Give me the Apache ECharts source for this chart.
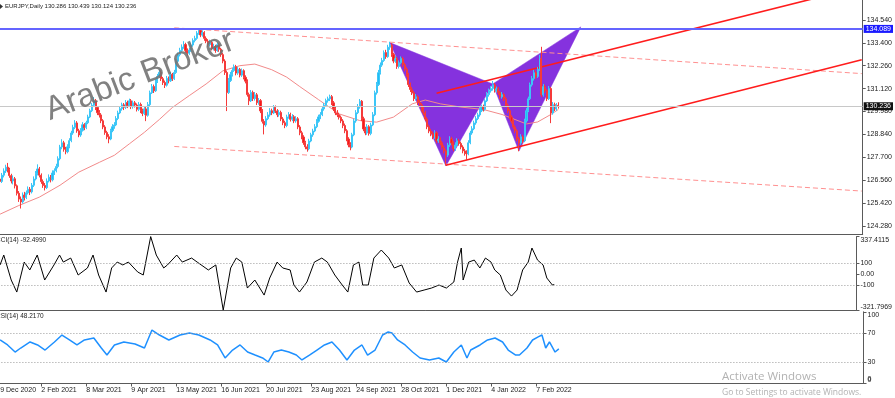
<!DOCTYPE html>
<html><head><meta charset="utf-8">
<script src="https://cdn.jsdelivr.net/npm/echarts@6/dist/echarts.min.js"></script>
<style>html,body{margin:0;padding:0;background:#fff;overflow:hidden;width:895px;height:398px;position:relative}#c{position:absolute;left:-10px;top:0;width:905px;height:398px}</style>
</head><body><div id="c"></div>
<script>
// ---------------- DATA ----------------
const chartTitle = 'EURJPY,Daily 130.286 130.439 130.124 130.236';
const cciTitle = 'CCI(14) -92.4990';
const rsiTitle = 'RSI(14) 48.2170';
const watermark = 'Arabic Broker';
const firstDate = '2020-12-29';
const categoryCount = 463;
const tickLabels = ['29 Dec 2020','2 Feb 2021','8 Mar 2021','9 Apr 2021','13 May 2021','16 Jun 2021','20 Jul 2021','23 Aug 2021','24 Sep 2021','28 Oct 2021','1 Dec 2021','4 Jan 2022','7 Feb 2022'];
const priceTicks = [124.280,125.420,126.560,127.700,128.840,129.980,131.120,132.260,133.400,134.540];
const priceMin = 123.883, priceMax = 135.529;
const alertLevel = 134.089;
const lastPrice = 130.236;
const cciTicks = [-321.7969,-100,0,100,337.4115];
const cciTickText = ['-321.7969','-100','0.00','100','337.4115'];
const cciLevels = [100,-100];
const rsiTicks = [0,30,70,100];
const rsiTickText = ['0','30','70','100'];
const rsiLevels = [70,30];

// daily candles [open, close, low, high], index 0 = 29 Dec 2020
const ohlc = [
[126.20,126.40,126.05,126.55],[126.40,126.62,126.31,126.78],[126.62,126.50,126.38,126.80],[126.50,126.81,126.42,126.92],[126.81,127.02,126.70,127.15],
[127.02,127.21,126.92,127.33],[127.21,127.08,126.95,127.42],[127.08,126.79,126.68,127.18],[126.79,126.52,126.40,126.88],[126.52,126.63,126.35,126.80],
[126.63,126.28,126.15,126.72],[126.28,125.91,125.80,126.35],[125.91,125.62,125.48,126.02],[125.62,125.48,125.15,125.75],[125.48,125.82,125.40,125.95],
[125.82,125.70,125.55,125.98],[125.70,125.93,125.62,126.05],[125.93,126.11,125.85,126.25],[126.11,125.98,125.82,126.22],[125.98,126.31,125.90,126.42],
[126.31,126.62,126.22,126.75],[126.62,126.90,126.55,127.02],[126.90,127.12,126.80,127.35],[127.12,126.81,126.70,127.22],[126.81,126.49,126.38,126.90],
[126.49,126.30,126.18,126.60],[126.30,126.19,126.05,126.42],[126.19,126.52,126.12,126.65],[126.52,126.71,126.45,126.85],[126.71,126.58,126.45,126.82],
[126.58,126.92,126.50,127.05],[126.92,127.03,126.82,127.15],[127.03,127.24,126.95,127.38],[127.24,127.63,127.15,127.75],[127.63,128.21,127.55,128.32],
[128.21,128.42,128.10,128.60],[128.42,128.10,127.98,128.52],[128.10,127.98,127.85,128.22],[127.98,128.22,127.90,128.35],[128.22,128.53,128.15,128.65],
[128.53,128.91,128.45,129.02],[128.91,129.19,128.82,129.32],[129.19,129.41,129.10,129.55],[129.41,129.02,128.92,129.50],[129.02,128.81,128.70,129.12],
[128.81,129.04,128.72,129.15],[129.04,129.32,128.98,129.45],[129.32,129.18,129.05,129.40],[129.18,129.42,129.10,129.52],[129.42,129.71,129.35,129.82],
[129.71,130.02,129.65,130.12],[130.02,130.29,129.95,130.40],[130.29,130.51,130.20,130.70],[130.51,130.18,130.05,130.60],[130.18,129.92,129.80,130.25],
[129.92,129.81,129.68,130.05],[129.81,129.52,129.40,129.90],[129.52,129.21,129.10,129.60],[129.21,128.93,128.82,129.30],[128.93,128.72,128.60,129.02],
[128.72,128.61,128.40,128.85],[128.61,129.03,128.55,129.12],[129.03,129.22,128.95,129.35],[129.22,129.31,129.12,129.45],[129.31,129.63,129.25,129.75],
[129.63,129.91,129.55,130.02],[129.91,130.12,129.85,130.25],[130.12,130.31,130.02,130.42],[130.31,130.19,130.05,130.40],[130.19,130.42,130.10,130.55],
[130.42,130.28,130.15,130.52],[130.28,130.51,130.20,130.62],[130.51,130.22,130.10,130.60],[130.22,130.41,130.12,130.52],[130.41,130.30,130.18,130.50],
[130.30,130.09,129.98,130.38],[130.09,130.33,130.00,130.45],[130.33,130.02,129.90,130.42],[130.02,129.88,129.75,130.12],[129.88,130.11,129.80,130.22],
[130.11,129.79,129.50,130.20],[129.79,130.32,129.72,130.45],[130.32,130.91,130.25,131.02],[130.91,131.22,130.85,131.35],[131.22,131.01,130.90,131.32],
[131.01,131.49,130.95,131.62],[131.49,131.72,131.40,131.85],[131.72,131.93,131.65,132.10],[131.93,131.61,131.50,132.02],[131.61,131.42,131.30,131.70],
[131.42,131.29,131.15,131.52],[131.29,131.63,131.22,131.75],[131.63,131.51,131.38,131.72],[131.51,131.82,131.45,131.95],[131.82,131.61,131.50,131.90],
[131.61,131.92,131.55,132.05],[131.92,132.48,131.85,132.60],[132.48,132.81,132.40,132.92],[132.81,133.02,132.72,133.15],[133.02,133.19,132.92,133.32],
[133.19,133.31,133.10,133.48],[133.31,133.02,132.90,133.40],[133.02,132.88,132.75,133.12],[132.88,133.04,132.80,133.15],[133.04,133.29,132.95,133.40],
[133.29,133.51,133.20,133.62],[133.51,133.62,133.42,133.75],[133.62,133.88,133.55,133.98],[133.88,134.01,133.80,134.10],[134.01,133.79,133.68,134.08],
[133.79,133.91,133.70,134.02],[133.91,133.62,133.50,133.98],[133.62,133.48,133.38,133.72],[133.48,133.31,133.20,133.58],[133.31,133.42,133.22,133.55],
[133.42,133.12,133.02,133.50],[133.12,133.21,133.02,133.35],[133.21,133.02,132.90,133.30],[133.02,133.31,132.95,133.42],[133.31,133.08,132.95,133.38],
[133.08,132.81,132.70,133.15],[132.81,132.49,132.38,132.90],[132.49,131.92,131.80,132.58],[131.92,130.92,130.00,132.02],[130.92,131.52,130.85,131.65],
[131.52,131.81,131.45,131.95],[131.81,132.02,131.72,132.15],[132.02,132.21,131.95,132.32],[132.21,131.89,131.78,132.30],[131.89,132.08,131.80,132.20],
[132.08,131.79,131.68,132.15],[131.79,132.01,131.70,132.12],[132.01,131.68,131.58,132.08],[131.68,131.49,131.38,131.78],[131.49,130.82,130.72,131.58],
[130.82,130.51,130.30,130.92],[130.51,130.93,130.45,131.05],[130.93,130.62,130.50,131.02],[130.62,130.81,130.52,130.95],[130.81,130.42,130.30,130.90],
[130.42,130.52,130.32,130.65],[130.52,130.01,129.90,130.60],[130.01,129.49,129.38,130.10],[129.49,129.31,128.84,129.60],[129.31,129.62,129.22,129.75],
[129.62,129.81,129.55,129.95],[129.81,130.02,129.72,130.15],[130.02,129.91,129.80,130.12],[129.91,130.18,129.85,130.30],[130.18,130.01,129.90,130.28],
[130.01,129.82,129.70,130.10],[129.82,129.93,129.72,130.05],[129.93,129.61,129.50,130.02],[129.61,129.42,129.30,129.70],[129.42,129.28,129.15,129.52],
[129.28,129.71,129.20,129.82],[129.71,129.82,129.62,129.95],[129.82,129.59,129.48,129.92],[129.59,129.72,129.50,129.85],[129.72,129.51,129.40,129.80],
[129.51,129.62,129.42,129.75],[129.62,129.21,129.10,129.70],[129.21,128.92,128.80,129.30],[128.92,128.71,128.60,129.02],[128.71,128.43,128.32,128.80],
[128.43,128.22,128.10,128.52],[128.22,128.12,127.98,128.35],[128.12,128.51,128.05,128.62],[128.51,128.82,128.45,128.92],[128.82,129.01,128.72,129.12],
[129.01,129.22,128.95,129.35],[129.22,129.49,129.15,129.60],[129.49,129.71,129.42,129.82],[129.71,129.82,129.60,129.95],[129.82,130.11,129.75,130.22],
[130.11,130.29,130.02,130.40],[130.29,130.52,130.22,130.62],[130.52,130.61,130.42,130.72],[130.61,130.72,130.50,130.82],[130.72,130.41,130.30,130.80],
[130.41,130.12,130.00,130.50],[130.12,129.91,129.80,130.22],[129.91,129.82,129.70,130.05],[129.82,129.69,129.58,129.92],[129.69,129.51,129.40,129.78],
[129.51,129.28,129.15,129.60],[129.28,129.02,128.90,129.38],[129.02,128.61,128.50,129.10],[128.61,128.32,128.20,128.70],[128.32,128.21,128.05,128.45],
[128.21,128.82,128.15,128.92],[128.82,129.51,128.75,129.62],[129.51,129.92,129.42,130.05],[129.92,130.21,129.85,130.35],[130.21,130.49,130.12,130.60],
[130.49,129.62,129.50,130.55],[129.62,129.11,129.00,129.72],[129.11,128.91,128.80,129.22],[128.91,129.22,128.82,129.35],[129.22,128.89,128.78,129.30],
[128.89,129.31,128.80,129.42],[129.31,129.82,129.25,129.95],[129.82,130.91,129.75,131.02],[130.91,131.32,130.82,131.45],[131.32,131.91,131.25,132.05],
[131.91,132.29,131.82,132.42],[132.29,132.52,132.20,132.65],[132.52,132.91,132.45,133.02],[132.91,132.71,132.60,133.05],[132.71,133.18,132.65,133.30],
[133.18,133.29,133.05,133.45],[133.29,132.82,132.70,133.38],[132.82,132.49,132.38,132.90],[132.49,132.61,132.40,132.75],[132.61,132.22,132.10,132.70],
[132.22,132.41,132.12,132.52],[132.41,132.62,132.32,132.72],[132.62,132.31,132.20,132.70],[132.31,132.09,131.98,132.40],[132.09,131.81,131.70,132.18],
[131.81,131.32,131.20,131.90],[131.32,131.08,130.95,131.42],[131.08,130.91,130.80,131.20],[130.91,130.62,130.50,131.00],[130.62,130.71,130.52,130.85],
[130.71,130.42,130.30,130.80],[130.42,130.31,130.20,130.55],[130.31,130.09,129.98,130.40],[130.09,129.92,129.80,130.20],[129.92,129.61,129.50,130.02],
[129.61,129.22,129.10,129.70],[129.22,129.01,128.90,129.32],[129.01,128.88,128.75,129.12],[128.88,128.71,128.60,128.98],[128.71,128.92,128.62,129.05],
[128.92,128.52,128.40,129.00],[128.52,128.61,128.42,128.75],[128.61,128.42,128.30,128.70],[128.42,128.19,128.08,128.52],[128.19,128.02,127.90,128.30],
[128.02,127.81,127.30,128.10],[127.81,128.31,127.72,128.42],[128.31,128.62,128.22,128.75],[128.62,128.41,128.30,128.72],[128.41,128.12,128.00,128.50],
[128.12,128.31,128.02,128.45],[128.31,128.52,128.22,128.65],[128.52,128.39,128.28,128.62],[128.39,128.21,128.10,128.48],[128.21,128.02,127.90,128.30],
[128.02,127.91,127.78,128.12],[127.91,127.88,127.55,128.05],[127.88,128.42,127.80,128.55],[128.42,128.91,128.35,129.02],[128.91,129.12,128.82,129.25],
[129.12,129.41,129.05,129.52],[129.41,129.62,129.32,129.75],[129.62,129.81,129.55,129.92],[129.81,130.02,129.72,130.15],[130.02,130.21,129.95,130.32],
[130.21,130.09,129.98,130.32],[130.09,130.51,130.02,130.62],[130.51,130.82,130.45,130.95],[130.82,131.01,130.72,131.12],[131.01,131.12,130.92,131.25],
[131.12,131.31,131.02,131.50],[131.31,131.02,130.92,131.40],[131.02,131.11,130.92,131.22],[131.11,130.92,130.80,131.20],[130.92,130.71,130.60,131.00],
[130.71,130.82,130.62,130.95],[130.82,130.61,130.50,130.90],[130.61,130.29,130.18,130.70],[130.29,130.02,129.90,130.38],[130.02,129.71,129.60,130.10],
[129.71,129.49,129.38,129.80],[129.49,129.21,129.10,129.58],[129.21,129.02,128.90,129.30],[129.02,128.62,128.50,129.10],[128.62,128.41,128.00,128.72],
[128.41,128.72,128.32,128.85],[128.72,128.52,128.40,128.82],[128.52,129.51,128.45,129.62],[129.51,130.02,129.42,130.15],[130.02,130.61,129.95,130.72],
[130.61,131.31,130.55,131.42],[131.31,131.62,131.22,131.75],[131.62,131.91,131.52,132.05],[131.91,131.72,131.60,132.02],[131.72,132.08,131.65,132.20],
[132.08,132.61,132.00,132.80],[132.61,130.81,130.70,133.20],[130.81,131.22,130.72,131.35],[131.22,131.02,130.90,131.32],[131.02,130.61,130.50,131.10],
[130.61,131.12,130.55,131.25],[131.12,129.91,129.40,131.20],[129.91,130.32,129.82,130.45],[130.32,130.11,130.00,130.42],[130.11,130.29,130.02,130.40],
[130.286,130.236,130.124,130.439]
];

// moving average read at sample bars [barIndex, value]
const maPoints = [[2,124.87],[12,125.30],[23,125.72],[34,126.31],[44,126.96],[55,127.45],[63,127.80],[71,128.37],[79,128.94],[87,129.58],[94,130.18],[103,130.77],[112,131.35],[121,132.01],[130,132.26],[138,132.34],[147,132.06],[155,131.69],[162,131.22],[172,130.57],[183,129.86],[194,129.53],[203,129.45],[212,129.70],[222,130.36],[229,130.55],[237,130.36],[248,130.20],[260,130.08],[270,129.83],[283,129.36],[289,129.46],[296,129.83],[300,130.08]];

// harmonic pattern points X A B C D
const patternBars = [210,240,265,279,312];
const patternPrices = [133.41,127.27,131.35,128.01,134.19];

// trend lines [barIndex, price] pairs
const channelUpperDashed = [[95,134.146],[462,131.866]];
const channelLowerDashed = [[95,128.24],[462,126.02]];
const risingUpper = [[235,130.886],[462,136.20]];
const risingLower = [[240,127.30],[462,132.555]];

// indicators read at sample bars
const cciPoints = [[2,83],[4,172],[8,-52],[11,-160],[15,109],[18,38],[22,172],[26,-52],[31,83],[34,172],[36,109],[40,145],[44,-7],[49,56],[52,172],[55,-7],[59,-160],[62,56],[65,109],[68,83],[71,109],[76,20],[79,-7],[83,337.41],[86,172],[90,56],[92,83],[97,172],[100,109],[105,145],[108,109],[114,38],[118,83],[122,-321.80],[126,56],[129,145],[132,109],[135,-124],[139,-52],[144,-187],[147,-34],[151,109],[154,56],[158,38],[160,-97],[163,-160],[167,-70],[171,109],[175,145],[178,109],[182,-7],[186,-97],[189,-160],[192,83],[195,109],[197,-97],[200,-97],[203,145],[207,217],[211,145],[214,56],[218,83],[222,-79],[226,-160],[230,-142],[234,-124],[238,-97],[242,-124],[246,-70],[248,109],[250,235],[251,-52],[254,109],[257,127],[260,56],[263,145],[266,109],[268,38],[271,-7],[274,-142],[277,-196],[280,-142],[283,38],[286,109],[288,235],[291,127],[294,83],[296,-34],[299,-97],[300,-92.499]];
const rsiPoints = [[2,60.7],[6,53.7],[10,43.9],[13,49.5],[18,57.9],[22,53.7],[26,46.7],[31,57.9],[35,67.6],[39,60.7],[43,53.7],[47,60.7],[52,63.5],[56,49.5],[59,39.7],[63,53.7],[68,57.9],[74,55.1],[79,49.5],[83,74.6],[87,67.6],[92,60.7],[98,67.6],[103,70.4],[108,67.6],[114,60.7],[118,53.7],[122,35.6],[126,46.7],[130,53.7],[134,43.9],[138,39.7],[142,35.6],[145,30.0],[148,43.9],[152,46.7],[156,43.9],[160,39.7],[163,32.8],[167,39.7],[171,46.7],[175,53.7],[179,57.9],[183,46.7],[187,32.8],[191,46.7],[195,53.7],[198,39.7],[202,46.7],[206,67.6],[209,71.8],[211,70.4],[214,60.7],[218,53.7],[222,43.9],[226,35.6],[231,32.8],[236,35.6],[240,30.0],[244,43.9],[248,53.7],[251,35.6],[253,46.7],[258,53.7],[262,60.7],[266,63.5],[270,57.9],[273,46.7],[277,39.7],[279,39.7],[283,49.5],[286,60.7],[289,65.0],[291,67.6],[293,49.5],[295,57.9],[298,43.9],[300,48.217]];

// ---------------- BUILD ----------------
const MON = ['Jan','Feb','Mar','Apr','May','Jun','Jul','Aug','Sep','Oct','Nov','Dec'];
const categories = [];
{
  let t = Date.parse(firstDate + 'T00:00:00Z');
  while (categories.length < categoryCount) {
    const d = new Date(t);
    const wd = d.getUTCDay(), md = (d.getUTCMonth() + 1) * 100 + d.getUTCDate();
    if (wd !== 0 && wd !== 6 && md !== 1225 && md !== 101)
      categories.push(d.getUTCDate() + ' ' + MON[d.getUTCMonth()] + ' ' + d.getUTCFullYear());
    t += 86400000;
  }
}
const triangles = [[0,1,2],[2,3,4]].map(tr => tr.flatMap(k => [patternBars[k], patternPrices[k]]));

const FONT = 'Liberation Sans';
const AXC = '#5a5a5a';
const OX = 10; // container is shifted 10px left
const CW = 905;
const GL = OX - 4.6, GR = 31.5;
const grids = [
  {left: GL, right: GR, top: -1, height: 235},
  {left: GL, right: GR, top: 236.6, height: 73.5},
  {left: GL, right: GR, top: 311.8, height: 71.7}
];
function xAxisFor(i) {
  const bottom = i === 2;
  return {
    type: 'category', gridIndex: i, data: categories, boundaryGap: true,
    axisLine: {show: true, onZero: false, lineStyle: {color: AXC, width: 1}},
    axisTick: {show: bottom, alignWithLabel: true, length: 3, interval: (idx, v) => tickLabels.includes(v), lineStyle: {color: AXC}},
    axisLabel: {show: bottom, interval: (idx, v) => tickLabels.includes(v), align: 'left', margin: 3, fontSize: 7, fontFamily: FONT, color: '#222', hideOverlap: false},
    splitLine: {show: false}
  };
}
function yAxisFor(i, min, max, ticks, texts, edgeAlign) {
  const lab = {show: true, customValues: ticks, margin: 4, fontSize: 7, fontFamily: FONT, color: '#222', showMinLabel: true, showMaxLabel: true, hideOverlap: false,
    formatter: texts ? (v => { const k = ticks.findIndex(t => Math.abs(t - v) < 1e-6); return k >= 0 ? texts[k] : ''; }) : (v => v.toFixed(3))};
  if (edgeAlign) { lab.verticalAlignMaxLabel = 'top'; lab.verticalAlignMinLabel = 'bottom'; }
  return {
    type: 'value', gridIndex: i, position: 'right', min, max,
    axisLine: {show: true, onZero: false, lineStyle: {color: AXC, width: 1}},
    axisTick: {show: true, length: 3, customValues: ticks, lineStyle: {color: AXC}},
    axisLabel: lab,
    splitLine: {show: false}
  };
}
const lineSeries = (pts, color, width, type, z) => ({
  type: 'line', xAxisIndex: 0, yAxisIndex: 0, data: pts, symbol: 'none', silent: true, z,
  lineStyle: {color, width, type}, animation: false, clip: true
});

const rsiBottom = grids[2].top + grids[2].height; // pixel where the RSI axis minimum sits
const graphics = [
  {type: 'polygon', shape: {points: [[OX + 0, 4], [OX + 3, 6.5], [OX + 0, 9]]}, style: {fill: '#333'}, z: 20, silent: true},
  {type: 'text', left: OX + 5, top: 3, z: 20, silent: true, style: {text: chartTitle, fontSize: 6, fontFamily: FONT, fill: '#222'}},
  {type: 'text', left: OX - 4, top: 237, z: 20, silent: true, style: {text: cciTitle, fontSize: 6.5, fontFamily: FONT, fill: '#222'}},
  {type: 'text', left: OX - 4, top: 313, z: 20, silent: true, style: {text: rsiTitle, fontSize: 6.5, fontFamily: FONT, fill: '#222'}},
  {type: 'text', x: OX + 140, y: 76, rotation: 21 * Math.PI / 180, z: 20, silent: true,
    style: {text: watermark, fontSize: 33, fontFamily: FONT, fill: 'rgba(115,115,115,0.9)', align: 'center', verticalAlign: 'middle'}},
  {type: 'text', left: OX + 722, top: 371, z: 20, silent: true, style: {text: 'Activate Windows', fontSize: 11.5, fontFamily: 'Open Sans', fill: 'rgba(170,170,170,0.9)'}},
  {type: 'text', left: OX + 722, top: 388, z: 20, silent: true, style: {text: 'Go to Settings to activate Windows.', fontSize: 8.5, fontFamily: 'Open Sans', fill: 'rgba(170,170,170,0.9)'}},
  {type: 'text', left: CW - GR + 4, top: rsiBottom - 8, z: 20, silent: true, style: {text: rsiTickText[0], fontSize: 7, fontFamily: FONT, fill: '#222'}}
];

const option = {
  animation: false,
  backgroundColor: '#ffffff',
  grid: grids,
  xAxis: [xAxisFor(0), xAxisFor(1), xAxisFor(2)],
  yAxis: [
    yAxisFor(0, priceMin, priceMax, priceTicks, null, false),
    yAxisFor(1, cciTicks[0], cciTicks[cciTicks.length - 1], cciTicks, cciTickText, true),
    yAxisFor(2, rsiTicks[0], rsiTicks[rsiTicks.length - 1], rsiTicks, rsiTickText, true)
  ],
  series: [
    { // price level lines
      type: 'line', xAxisIndex: 0, yAxisIndex: 0, data: [], z: 0, silent: true,
      markLine: {silent: true, symbol: 'none', animation: false, data: [
        {yAxis: lastPrice, lineStyle: {color: '#c8c8c8', width: 1, type: 'solid'},
          label: {show: true, position: 'end', distance: 1, formatter: lastPrice.toFixed(3), color: '#fff', backgroundColor: '#111', padding: [1, 2, 0, 2], fontSize: 7, fontFamily: FONT}},
        {yAxis: alertLevel, lineStyle: {color: '#6464ff', width: 2, type: 'solid'},
          label: {show: true, position: 'end', distance: 1, formatter: alertLevel.toFixed(3), color: '#fff', backgroundColor: '#1a1aff', padding: [1, 2, 0, 2], fontSize: 7, fontFamily: FONT}}
      ]}
    },
    {
      type: 'custom', xAxisIndex: 0, yAxisIndex: 0, z: 1, silent: true, clip: true,
      data: triangles, encode: {x: [0, 2, 4], y: [1, 3, 5]},
      renderItem(params, api) {
        const pts = [0, 1, 2].map(k => api.coord([api.value(2 * k), api.value(2 * k + 1)]));
        return {type: 'polygon', shape: {points: pts}, style: {fill: '#8532de', stroke: '#8532de', lineWidth: 0.5}};
      }
    },
    lineSeries(channelUpperDashed, '#ff9090', 1, [5, 3], 2),
    lineSeries(channelLowerDashed, '#ff9090', 1, [5, 3], 2),
    lineSeries(risingUpper, '#ff1c1c', 1.6, 'solid', 2),
    lineSeries(risingLower, '#ff1c1c', 1.6, 'solid', 2),
    lineSeries(maPoints, '#f28a8a', 1, 'solid', 3),
    {
      type: 'candlestick', xAxisIndex: 0, yAxisIndex: 0, data: ohlc, z: 4, barWidth: 1.6, silent: true,
      itemStyle: {color: '#1fbdf5', color0: '#f51a1a', borderColor: '#3cc6f7', borderColor0: '#f53a3a', borderWidth: 1}
    },
    {
      type: 'line', xAxisIndex: 1, yAxisIndex: 1, data: cciPoints, symbol: 'none', silent: true,
      lineStyle: {color: '#000', width: 1},
      markLine: {silent: true, symbol: 'none', label: {show: false}, lineStyle: {color: '#9a9a9a', type: [1, 2], width: 1}, data: cciLevels.map(v => ({yAxis: v}))}
    },
    {
      type: 'line', xAxisIndex: 2, yAxisIndex: 2, data: rsiPoints, symbol: 'none', silent: true,
      lineStyle: {color: '#1e90ff', width: 1.5},
      markLine: {silent: true, symbol: 'none', label: {show: false}, lineStyle: {color: '#9a9a9a', type: [1, 2], width: 1}, data: rsiLevels.map(v => ({yAxis: v}))}
    }
  ],
  graphic: graphics
};
const chart = echarts.init(document.getElementById('c'), null, {renderer: 'canvas'});
chart.setOption(option);
</script>
</body></html>
